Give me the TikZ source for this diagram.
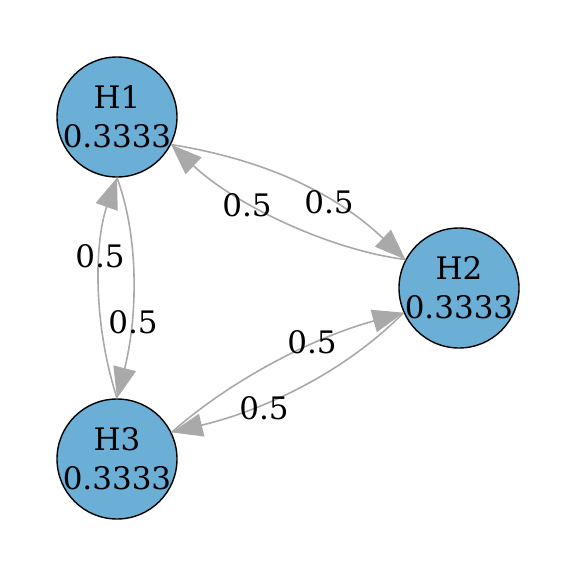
\documentclass[tikz,border=0pt]{standalone}
\usepackage{fontspec}
\setmainfont{DejaVu Serif}
\usetikzlibrary{arrows.meta}
\definecolor{nodefill}{RGB}{107,174,214}
\definecolor{edgegray}{RGB}{169,169,169}
\newcommand\zline[1]{\makebox[0pt]{#1}}
\tikzset{
  state/.style={circle, draw=black, line width=1.4pt, fill=nodefill, minimum size=120pt, inner sep=0pt, align=center, font=\fontsize{31}{39}\selectfont},
  edge/.style={draw=edgegray, line width=1.6pt, -{Triangle[length=31pt,width=23pt,fill=edgegray]}},
  lbl/.style={inner sep=0pt, font=\fontsize{31}{36}\selectfont}
}
\begin{document}
\begin{tikzpicture}[x=1pt,y=-1pt]
\useasboundingbox (0,0) rectangle (576,576);
\node[state] (h1) at (117,117) {\zline{H1}\\\zline{0.3333}};
\node[state] (h2) at (459,288) {\zline{H2}\\\zline{0.3333}};
\node[state] (h3) at (117,459) {\zline{H3}\\\zline{0.3333}};
% H1 <-> H2
\draw[edge] (h1.-27) .. controls (255,158) and (330,188) .. (h2.152);
\draw[edge] (h2.152) .. controls (330,250) and (235,205) .. (h1.-27);
% H1 <-> H3
\draw[edge] (h1.-90) .. controls (140,240) and (137,320) .. (h3.90);
\draw[edge] (h3.90) .. controls (92,320) and (95,240) .. (h1.-90);
% H3 <-> H2
\draw[edge] (h3.26) .. controls (225,385) and (305,340) .. (h2.204);
\draw[edge] (h2.204) .. controls (345,372) and (265,410) .. (h3.26);
% labels
\node[lbl] (l12) at (329,202) {0.5};
\node[lbl] (l21) at (247,205) {0.5};
\node[lbl] (l31) at (100,256) {0.5};
\node[lbl] (l13) at (133,322) {0.5};
\node[lbl] (l32) at (312,342) {0.5};
\node[lbl] (l23) at (264,408) {0.5};
\end{tikzpicture}
\end{document}
